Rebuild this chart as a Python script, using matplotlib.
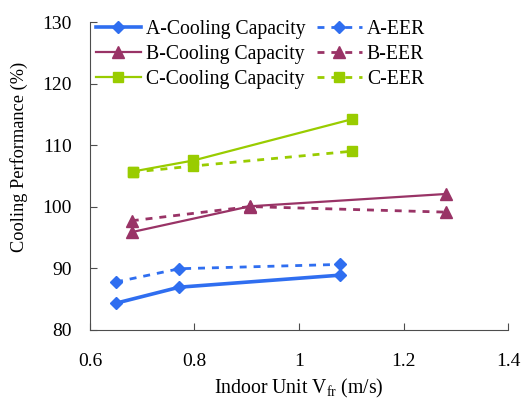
import numpy as np
import matplotlib as mplt
mplt.use('Agg')
import matplotlib.pyplot as plt

mplt.rcParams['font.family'] = ['Liberation Serif', 'DejaVu Serif']
mplt.rcParams['mathtext.fontset'] = 'custom'
mplt.rcParams['mathtext.rm'] = 'Liberation Serif'
mplt.rc('xtick', labelsize=14)
mplt.rc('ytick', labelsize=14)

# data
a_x = [0.65, 0.771, 1.078]
a_cap = [84.3, 86.9, 88.85]
a_eer = [87.75, 89.9, 90.6]
b_x = [0.68, 0.906, 1.281]
b_cap = [95.85, 100.05, 102.05]
b_eer = [97.7, 100.0, 99.1]
c_x = [0.682, 0.798, 1.101]
c_cap = [105.7, 107.5, 114.2]
c_eer = [105.6, 106.6, 109.0]

ca, cb, cc = '#2f6ef0', '#993366', '#99cc00'

fig = plt.figure(figsize=(5.26, 4.01), dpi=100)
ax = fig.add_axes([0.171, 0.178, 0.795, 0.767])

l1, = ax.plot(a_x, a_cap, c=ca, lw=2.6, marker='D', ms=6, label='A-Cooling Capacity')
l2, = ax.plot(b_x, b_cap, c=cb, lw=1.6, marker='^', ms=8, label='B-Cooling Capacity')
l3, = ax.plot(c_x, c_cap, c=cc, lw=1.6, marker='s', ms=7.5, label='C-Cooling Capacity')
l4, = ax.plot(a_x, a_eer, c=ca, lw=2.0, ls=(0, (2.5, 2.5)), marker='D', ms=6, label='A-EER')
l5, = ax.plot(b_x, b_eer, c=cb, lw=2.0, ls=(0, (2.5, 2.5)), marker='^', ms=8, label='B-EER')
l6, = ax.plot(c_x, c_eer, c=cc, lw=2.0, ls=(0, (2.5, 2.5)), marker='s', ms=7.5, label='C-EER')

ax.set_xlim(0.6, 1.4)
ax.set_ylim(80, 130)
ax.set_xticks([0.6, 0.8, 1.0, 1.2, 1.4])
ax.set_xticklabels(['0.6', '0.8', '1', '1.2', '1.4'])
ax.set_yticks([80, 90, 100, 110, 120, 130])
ax.tick_params(direction='in', length=5, color='0.3')
ax.tick_params(axis='x', pad=17)
ax.tick_params(axis='y', pad=13)
for s in ['top', 'right']:
    ax.spines[s].set_visible(False)
for s in ['left', 'bottom']:
    ax.spines[s].set_color('0.3')

ax.set_xlabel(r'Indoor Unit V$_\mathregular{fr}$ (m/s)', fontsize=14.2, labelpad=5)
ax.set_ylabel('Cooling Performance (%)', fontsize=13.2)
ax.yaxis.set_label_coords(-0.148, 0.562)

ax.legend(handles=[l1, l2, l3, l4, l5, l6], ncol=2, loc='upper left',
          bbox_to_anchor=(-0.005, 1.032), frameon=False, fontsize=14.2,
          handlelength=2.3, handletextpad=0.25, columnspacing=0.55,
          labelspacing=0.3, borderaxespad=0.0)

plt.savefig('out.png', dpi=100)
